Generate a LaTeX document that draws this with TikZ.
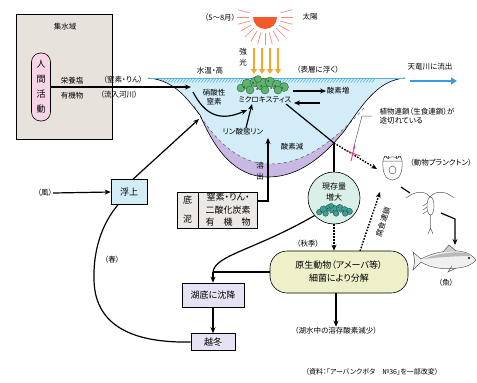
\documentclass[tikz,border=0pt]{standalone}
\usepackage{fontspec}
\setmainfont{Noto Sans CJK JP}[RawFeature=+palt]
\usetikzlibrary{arrows.meta,calc,positioning}

\definecolor{basinfill}{HTML}{E8E2DC}
\definecolor{humanfill}{HTML}{F7D4E6}
\definecolor{waterfill}{HTML}{D2ECF8}
\definecolor{hatchblue}{HTML}{5AB0DC}
\definecolor{mudlayer}{HTML}{C9B8E3}
\definecolor{mudbox}{HTML}{ECE8E3}
\definecolor{lilac}{HTML}{E6E2F3}
\definecolor{decompfill}{HTML}{EEF0CA}
\definecolor{stockfill}{HTML}{D9EFE8}
\definecolor{sunred}{HTML}{F25A2A}
\definecolor{rayred}{HTML}{F5897A}
\definecolor{beam}{HTML}{F7A62B}
\definecolor{riverblue}{HTML}{3B9BE0}
\definecolor{cutpink}{HTML}{EE3D8E}
\definecolor{algae}{HTML}{5DB26E}
\definecolor{colonyteal}{HTML}{3FA093}

\newcommand{\lblfont}{\fontsize{7.5}{9}\selectfont}
\newcommand{\boxfont}{\fontsize{9}{11}\selectfont}

\tikzset{
  box/.style={draw,rectangle,line width=0.6pt,align=center,font=\boxfont,inner sep=1pt},
  lbl/.style={inner sep=0.5pt,font=\lblfont,align=center},
  flow/.style={-{Stealth[length=6pt,width=5pt]},line width=1.2pt},
  link/.style={line width=1.2pt},
  chain/.style={line width=1.4pt,dash pattern=on 1.6pt off 1.4pt},
  beamarrow/.style={beam,line width=2pt,-{Triangle[length=5pt,width=6pt]}},
  ray/.style={rayred,line width=0.7pt},
  sketch/.style={gray!70!black,line width=0.5pt}
}

% algae colony: position, scale, colour
\newcommand{\colony}[3]{%
  \begin{scope}[shift={(#1)},scale=#2]
    \foreach \cx/\cy/\cr in {-21/3/4,-15/-1/5,-7/-3/5,0/-1/6,8/-3/5,15/0/5,22/2/4.5,-12/5/4,3/5/4,16/5/4,-4/-6/3.5}
      \filldraw[fill=#3,draw=#3!55!black,line width=0.4pt] (\cx,\cy) circle[radius=\cr];
    \foreach \cx/\cy in {-18/2,-9/-2,-1/1,6/-4,13/1,20/3,-5/4,9/3}
      \fill[#3!50!black] (\cx,\cy) circle[radius=1];
  \end{scope}}

\begin{document}
\begin{tikzpicture}[x=1pt,y=-1pt,>=Stealth]
  \useasboundingbox (0,0) rectangle (477,383);

  % catchment
  \node[draw,line width=0.6pt,fill=basinfill,minimum width=96pt,minimum height=125pt] (basin) at (64,76.5) {};
  \node[lbl] (basinname) at (65,27) {集水域};
  \node[draw,line width=0.6pt,fill=humanfill,rounded corners=9pt,minimum width=19pt,minimum height=68pt,
        align=center,font=\fontsize{9}{15}\selectfont] (human) at (41,87) {人\\間\\活\\動};
  \node[lbl] (nutr) at (72,81) {栄養塩};
  \node[lbl] (organic) at (72,96) {有機物};
  \node[lbl] (np) at (123,80) {（窒素・りん）};
  \node[lbl] (river) at (119,95) {（流入河川）};

  % lake body
  \fill[waterfill] (148,78) .. controls (175,80) and (188,100) .. (200,115)
    .. controls (215,150) and (235,177) .. (268,177) .. controls (300,177) and (325,155) .. (345,130)
    .. controls (365,100) and (380,80) .. (405,78) -- cycle;
  \begin{scope}
    \clip (148,78) .. controls (175,80) and (188,100) .. (200,115)
      .. controls (215,150) and (235,177) .. (268,177) .. controls (300,177) and (325,155) .. (345,130)
      .. controls (365,100) and (380,80) .. (405,78) -- cycle;
    \fill[mudlayer] (194,106) .. controls (205,125) and (230,163) .. (268,164)
      .. controls (305,165) and (335,140) .. (364,108) -- (364,200) -- (194,200) -- cycle;
    \foreach \x in {150,153,...,372}
      \draw[hatchblue,line width=0.5pt] (\x,82.5) -- ++(3,-4);
  \end{scope}
  \draw[gray!70!black,dashed,line width=0.5pt] (194,106) .. controls (205,125) and (230,163) .. (268,164)
      .. controls (305,165) and (335,140) .. (364,108);
  \draw[line width=0.6pt] (148,78) .. controls (175,80) and (188,100) .. (200,115)
    .. controls (215,150) and (235,177) .. (268,177) .. controls (300,177) and (325,155) .. (345,130)
    .. controls (365,100) and (380,80) .. (405,78);
  \draw[hatchblue,line width=0.6pt] (148,78) -- (405,78);

  % sun
  \fill[sunred] (253,17) arc[start angle=180,end angle=0,radius=12] -- cycle;
  \foreach \a in {-15,0,...,195}
    \draw[ray] ($(265,17)+(\a:16)$) -- ($(265,17)+(\a:28)$);
  \foreach \x in {254,262,270,278}
    \draw[beamarrow] (\x,48) -- (\x,74);
  \node[lbl] (season) at (220,18) {（5〜8月）};
  \node[lbl] (sun) at (310,17) {太陽};
  \node[lbl,font=\fontsize{7.5}{11}\selectfont] (strong) at (243,57) {強\\光};
  \node[lbl] (warm) at (210,71) {水温・高};
  \node[lbl] (float) at (318,70) {（表層に浮く）};
  \node[lbl] (outflow) at (430,67) {天竜川に流出};
  \coordinate (riverA) at (410,81);
  \coordinate (riverB) at (457,81);
  \draw[riverblue,line width=1.8pt,-{Triangle[length=6pt,width=7pt]}] (riverA) -- (riverB);

  % inside the lake
  \colony{262,85}{1}{algae}
  \node[lbl] (micro) at (265,100) {ミクロキスティス};
  \node[lbl] (nitrate) at (214,97) {硝酸性\\窒素};
  \node[lbl] (phos) at (243,132) {リン酸態リン};
  \node[lbl] (oxup) at (338,91) {酸素増};
  \node[lbl] (oxdown) at (292,147) {酸素減};
  \node[lbl,font=\fontsize{7.5}{11}\selectfont] (release) at (260,171) {溶\\出};

  \coordinate (inflow) at (191,87);
  \draw[flow] (human.east) -- (inflow);
  \coordinate (nitr) at (193,92);
  \coordinate (nitrend) at (247,110);
  \draw[flow] (nitr) .. controls (205,115) and (220,122) .. (nitrend);
  \draw[flow] ([xshift=3pt]phos.north) -- ([xshift=-13pt]micro.south);
  \coordinate (oxa) at (293,91);
  \draw[flow] (oxa) -- (oxup.west);
  \coordinate (oxb) at (320,103);
  \coordinate (oxc) at (294,103);
  \draw[flow] (oxb) -- (oxc);

  % sediment
  \node[box,fill=mudbox,minimum width=21pt,minimum height=36pt,font=\fontsize{9}{19}\selectfont] (mudL) at (187.5,210) {底\\泥};
  \node[box,fill=mudbox,minimum width=59pt,minimum height=36pt,font=\fontsize{9}{12.5}\selectfont,right=0pt of mudL] (mudR) {窒素・りん・\\二酸化炭素\\有　機　物};
  \coordinate (upmud) at (268,138);
  \draw[flow] ([yshift=9pt]mudR.east) -| (upmud);

  % wind and rising
  \node[lbl] (wind) at (45,193) {（風）};
  \node[box,fill=waterfill,minimum width=36pt,minimum height=25pt] (rise) at (129,192) {浮上};
  \draw[flow] (wind.east) -- (rise.west);
  \coordinate (shore) at (199,119);
  \draw[flow] ([xshift=4pt]rise.north) -- (shore);

  % standing crop
  \node[draw,circle,line width=0.6pt,fill=stockfill,minimum size=52pt] (stock) at (334,198) {};
  \node[lbl,font=\fontsize{8}{10.5}\selectfont] (stocktxt) at (334,192) {現存量\\増大};
  \colony{334,210}{0.7}{colonyteal}
  \coordinate (junc) at (334,143);
  \draw[link] ([xshift=-6pt]micro.south east) -- (junc);
  \draw[link] (junc) -- (stock.north);
  \coordinate (zoo) at (377,169);
  \draw[chain,-{Stealth[length=6pt,width=5pt]}] (junc) -- (zoo);
  \draw[cutpink,line width=0.9pt] (345,150) -- (360,156) (351,161) -- (355,145);
  \draw[gray!70!black,line width=0.5pt] (353,150) -- (362,116) -- (372,116);
  \node[lbl,align=left,anchor=west] (cut1) at (379,112) {植物連鎖（生食連鎖）が};
  \node[lbl,align=left,anchor=west] (cut2) at (379,121) {途切れている};

  % plankton and fish
  \draw[sketch,fill=white] (383,161) .. controls (382,173) and (386,180) .. (392.5,180)
    .. controls (399,180) and (403,173) .. (402,161) -- cycle;
  \draw[sketch] (383,161) .. controls (383,156) and (387,155) .. (388,159)
    .. controls (390,156) and (395,156) .. (397,159) .. controls (398,155) and (402,156) .. (402,161);
  \foreach \x in {384,386,388,396,398,400}
    \draw[sketch] (\x,157.5) -- ++(0,-2);
  \draw[sketch] (392.5,170) ellipse[x radius=3.5,y radius=4];
  \node[lbl] (zootxt) at (441,163) {（動物プランクトン）};

  \draw[sketch] (406,198) .. controls (415,191) and (425,190) .. (430,197);
  \draw[sketch] (430,197) .. controls (436,190) and (446,191) .. (454,198);
  \filldraw[sketch,fill=white] (430.5,206) ellipse[x radius=3.5,y radius=9];
  \draw[sketch] (430.5,215) -- (430.5,228) (430.5,228) -- (428,234) (430.5,228) -- (433,234);
  \foreach \y in {203,207,211}
    \draw[sketch] (427,\y) -- (423,\y+3);
  \coordinate (rotlow) at (401,187);
  \coordinate (copant) at (410,193);
  \draw[link] (rotlow) -- (copant);

  \filldraw[sketch,fill=gray!12] (476,260) .. controls (470,252) and (460,250) .. (448,251)
    .. controls (438,252) and (428,255) .. (421,259) -- (413,252) .. controls (415,258) and (415,264) .. (413,270)
    -- (421,262) .. controls (430,268) and (445,270) .. (458,268) .. controls (467,267) and (473,264) .. (476,260) -- cycle;
  \fill[gray!55] (470,254) .. controls (460,251) and (440,252) .. (424,259) .. controls (440,257) and (460,256) .. (470,256) -- cycle;
  \draw[sketch,fill=gray!40] (443,252) -- (449,245) -- (456,251);
  \draw[sketch] (452,266) -- (448,272) -- (456,268);
  \fill[black] (469,258) circle[radius=1.2];
  \node[lbl] (fishtxt) at (446,283) {（魚）};
  \coordinate (copetail) at (441,213);
  \coordinate (fishtop) at (455,245);
  \draw[flow] (copetail) -- (455,219) -- (fishtop);

  % decomposition and settling
  \node[lbl] (autumn) at (308,244) {（秋季）};
  \node[box,fill=decompfill,rounded corners=17pt,minimum width=138pt,minimum height=42pt,
        font=\fontsize{9}{13}\selectfont] (decomp) at (339,272) {原生動物（アメーバ等）\\細菌により分解};
  \draw[chain,-{Stealth[length=6pt,width=5pt]}] (stock.south) -- (stock.south |- decomp.north);
  \coordinate (detr) at (360,251);
  \coordinate (zoo2) at (380,192);
  \draw[chain,-{Stealth[length=6pt,width=5pt]}] (detr) -- (zoo2);
  \node[lbl,rotate=72] (detritus) at (383,222) {腐食連鎖};
  \node[lbl] (o2low) at (336,331) {（湖水中の溶存酸素減少）};
  \draw[flow] (o2low.north |- decomp.south) -- (o2low.north);

  \node[box,fill=lilac,minimum width=62pt,minimum height=24pt] (sink) at (213,295) {湖底に沈降};
  \node[box,fill=lilac,minimum width=44pt,minimum height=17pt] (winter) at (213,342) {越冬};
  \coordinate (bend) at (213,272);
  \draw[link] (stock.222) .. controls (255,250) and (215,255) .. (bend);
  \draw[link] (decomp.west) -- (bend);
  \draw[flow] (bend) -- (sink.north);
  \draw[flow] (sink.south) -- (winter.north);
  \draw[link] (winter.west) .. controls (140,343) and (95,330) .. (94,280)
    .. controls (93,245) and (105,220) .. ([xshift=-11pt]rise.south);
  \node[lbl] (spring) at (112,260) {（春）};

  \node[lbl,font=\fontsize{7}{9}\selectfont] (source) at (372,372) {（資料：「アーバンクボタ　№36」を一部改変）};
\end{tikzpicture}
\end{document}
